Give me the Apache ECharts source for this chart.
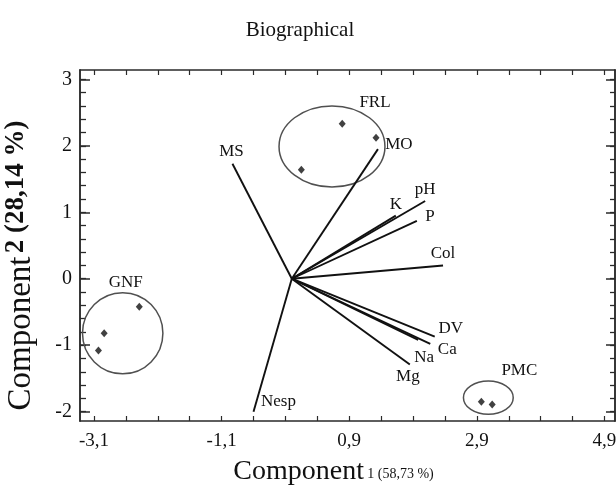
<!DOCTYPE html>
<html><head><meta charset="utf-8">
<script src="https://cdn.jsdelivr.net/npm/echarts@6/dist/echarts.min.js"></script>
<style>html,body{margin:0;padding:0;background:#fff}#c{width:616px;height:486px}</style>
</head><body><div id="c"></div>
<script>
// ---------- data ----------
const titleText = 'Biographical';
const xNameMain = 'Component';
const xNameSub = '1 (58,73 %)';
const yNameMain = 'Component';
const yNameSub = '2 (28,14 %)';

const xLabelValues = [-3.1, -1.1, 0.9, 2.9, 4.9];
const xTickValues = [-3.1, -2.6, -2.1, -1.6, -1.1, -0.6, -0.1, 0.4, 0.9, 1.4, 1.9, 2.4, 2.9, 3.4, 3.9, 4.4, 4.9];
const yLabelValues = [-2, -1, 0, 1, 2, 3];
const yMinorTickValues = [-2, -1.8, -1.6, -1.4, -1.2, -1, -0.8, -0.6, -0.4, -0.2, 0, 0.2, 0.4, 0.6, 0.8, 1, 1.2, 1.4, 1.6, 1.8, 2, 2.2, 2.4, 2.6, 2.8, 3];

// variable loadings (vectors from origin)
const vectorNames = ['MS', 'MO', 'pH', 'K', 'P', 'Col', 'DV', 'Ca', 'Na', 'Mg', 'Nesp'];
const vectorX = [-0.93, 1.35, 2.09, 1.63, 1.96, 2.37, 2.24, 2.17, 1.98, 1.85, -0.60];
const vectorY = [1.73, 1.95, 1.17, 0.95, 0.87, 0.20, -0.87, -0.98, -0.92, -1.29, -2.00];

// observation scores
const pointGroup = ['FRL', 'FRL', 'FRL', 'GNF', 'GNF', 'GNF', 'PMC', 'PMC'];
const pointX = [0.79, 1.32, 0.15, -2.39, -2.94, -3.03, 2.97, 3.14];
const pointY = [2.33, 2.12, 1.64, -0.42, -0.82, -1.08, -1.85, -1.89];

// group ellipses
const groupNames = ['FRL', 'GNF', 'PMC'];
const groupCenterX = [0.63, -2.65, 3.08];
const groupCenterY = [1.99, -0.82, -1.79];
const groupRadiusX = [0.83, 0.63, 0.39];
const groupRadiusY = [0.61, 0.61, 0.25];

// ---------- styles ----------
const SERIF = '"Liberation Serif", "Times New Roman", serif';
const INK = '#111';
const FRAME = '#2a2a2a';
const vectorLabelOffset = {
  MS: [-1, -12], MO: [21, -5], pH: [0, -11], K: [0, -11], P: [13, -4], Col: [0, -12],
  DV: [16, -8], Ca: [17, 6], Na: [6, 18], Mg: [-2, 12], Nesp: [25, -10]
};
const groupLabelOffset = { FRL: [43, -44], GNF: [3, -51], PMC: [31, -27] };

const fmt = v => String(Math.round(v * 10) / 10).replace('.', ',');

const chart = echarts.init(document.getElementById('c'), null, { renderer: 'canvas' });

const baseX = {
  type: 'value', min: -3.319, max: 5.065, splitLine: { show: false },
  axisLine: { show: true, onZero: false, lineStyle: { color: FRAME, width: 1.5 } }
};
const baseY = {
  type: 'value', min: -2.14, max: 3.14, splitLine: { show: false },
  axisLine: { show: true, onZero: false, lineStyle: { color: FRAME, width: 1.5 } }
};

const option = {
  backgroundColor: '#fff',
  animation: false,
  title: {
    text: titleText, left: 295, top: 15, textAlign: 'center',
    textStyle: { fontFamily: SERIF, fontSize: 21, fontWeight: 'normal', color: INK }
  },
  grid: { left: 80, right: 1, top: 70, bottom: 65, containLabel: false, outerBoundsMode: 'none' },
  xAxis: [
    Object.assign({}, baseX, {
      position: 'bottom',
      axisTick: { show: true, inside: true, length: 5, customValues: xTickValues, lineStyle: { color: FRAME, width: 1.2 } },
      axisLabel: { show: true, customValues: xLabelValues, formatter: fmt, fontFamily: SERIF, fontSize: 19, color: INK, margin: 11 },
      name: '{a|' + xNameMain + '} {b|' + xNameSub + '}',
      nameLocation: 'middle', nameGap: 36,
      nameTextStyle: {
        padding: [0, 28, 0, 0],
        rich: {
          a: { fontFamily: SERIF, fontSize: 28, color: INK, verticalAlign: 'bottom', lineHeight: 29 },
          b: { fontFamily: SERIF, fontSize: 14, color: INK, verticalAlign: 'bottom', padding: [0, 0, 5, 0] }
        }
      }
    }),
    Object.assign({}, baseX, {
      position: 'top',
      axisTick: { show: true, inside: true, length: 5, customValues: xTickValues, lineStyle: { color: FRAME, width: 1.2 } },
      axisLabel: { show: false }
    })
  ],
  yAxis: [
    Object.assign({}, baseY, {
      position: 'left',
      axisTick: { show: true, inside: true, length: 10, customValues: yLabelValues, lineStyle: { color: FRAME, width: 1.5 } },
      axisLabel: { show: true, customValues: yLabelValues, formatter: fmt, fontFamily: SERIF, fontSize: 20, color: INK, margin: 8 },
      name: '{a|' + yNameMain + '} {b|' + yNameSub + '}',
      nameLocation: 'middle', nameGap: 42,
      nameTextStyle: {
        padding: [0, 40, 0, 0],
        rich: {
          a: { fontFamily: SERIF, fontSize: 33, color: INK, verticalAlign: 'bottom', lineHeight: 34 },
          b: { fontFamily: SERIF, fontSize: 27, fontWeight: 'bold', color: INK, verticalAlign: 'bottom', padding: [0, 0, 8, 0] }
        }
      }
    }),
    Object.assign({}, baseY, {
      position: 'left',
      axisTick: { show: true, inside: true, length: 6, customValues: yMinorTickValues, lineStyle: { color: FRAME, width: 1.3 } },
      axisLabel: { show: false }
    }),
    Object.assign({}, baseY, {
      position: 'right',
      axisTick: { show: true, inside: true, length: 9, customValues: yLabelValues, lineStyle: { color: FRAME, width: 1.5 } },
      axisLabel: { show: false }
    }),
    Object.assign({}, baseY, {
      position: 'right',
      axisTick: { show: true, inside: true, length: 5, customValues: yMinorTickValues, lineStyle: { color: FRAME, width: 1.3 } },
      axisLabel: { show: false }
    })
  ],
  series: [
    {
      name: 'groups', type: 'custom', xAxisIndex: 0, yAxisIndex: 0, clip: false, silent: true,
      data: groupNames.map((g, i) => [groupCenterX[i], groupCenterY[i], groupRadiusX[i], groupRadiusY[i]]),
      renderItem: function (params, api) {
        const c = api.coord([api.value(0), api.value(1)]);
        const s = api.size([api.value(2), api.value(3)]);
        const name = groupNames[params.dataIndex];
        const off = groupLabelOffset[name];
        return {
          type: 'group', children: [
            { type: 'ellipse', shape: { cx: c[0], cy: c[1], rx: s[0], ry: s[1] },
              style: { fill: null, stroke: '#505050', lineWidth: 1.5 } },
            { type: 'text', x: c[0] + off[0], y: c[1] + off[1],
              style: { text: name, fontFamily: SERIF, fontSize: 17, fill: INK, align: 'center', verticalAlign: 'middle' } }
          ]
        };
      }
    },
    {
      name: 'variables', type: 'custom', xAxisIndex: 0, yAxisIndex: 0, clip: false, silent: true,
      data: vectorNames.map((n, i) => [vectorX[i], vectorY[i]]),
      renderItem: function (params, api) {
        const o = api.coord([0, 0]);
        const e = api.coord([api.value(0), api.value(1)]);
        const name = vectorNames[params.dataIndex];
        const off = vectorLabelOffset[name];
        return {
          type: 'group', children: [
            { type: 'line', shape: { x1: o[0], y1: o[1], x2: e[0], y2: e[1] },
              style: { stroke: INK, lineWidth: 1.9 } },
            { type: 'text', x: e[0] + off[0], y: e[1] + off[1],
              style: { text: name, fontFamily: SERIF, fontSize: 17, fill: INK, align: 'center', verticalAlign: 'middle' } }
          ]
        };
      }
    },
    {
      name: 'observations', type: 'scatter', xAxisIndex: 0, yAxisIndex: 0,
      symbol: 'diamond', symbolSize: [7, 8],
      itemStyle: { color: INK },
      data: pointX.map((x, i) => ({ value: [x, pointY[i]], name: pointGroup[i] }))
    }
  ]
};
chart.setOption(option);
</script>
</body></html>
